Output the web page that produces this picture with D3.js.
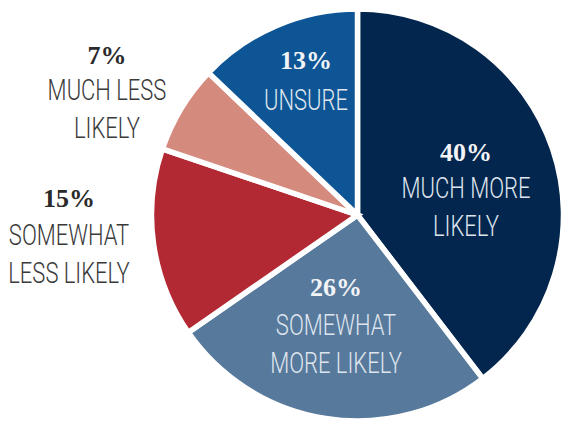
<!DOCTYPE html>
<html>
<head>
<meta charset="utf-8">
<script src="https://cdn.jsdelivr.net/npm/d3@7"></script>
<style>
  html, body { margin: 0; padding: 0; background: #fff; }
  svg { display: block; }
</style>
</head>
<body>
<svg id="chart" width="563" height="423"></svg>
<script>
const categories = ["MUCH MORE LIKELY", "SOMEWHAT MORE LIKELY", "SOMEWHAT LESS LIKELY", "MUCH LESS LIKELY", "UNSURE"];
const values = [40, 26, 15, 7, 13];
const pctLabels = ["40%", "26%", "15%", "7%", "13%"];
const labelLines = [["MUCH MORE", "LIKELY"], ["SOMEWHAT", "MORE LIKELY"], ["SOMEWHAT", "LESS LIKELY"], ["MUCH LESS", "LIKELY"], ["UNSURE"]];
const colors = ["#02264d", "#57799c", "#b22833", "#d48b7e", "#0d5595"];

const svg = d3.select("#chart");
const cx = 357.5, cy = 215, R = 206;

const pie = d3.pie().sort(null).value(d => d)(values);
const arc = d3.arc().innerRadius(0).outerRadius(R);

const g = svg.append("g").attr("transform", `translate(${cx},${cy})`);
g.selectAll("path").data(pie).join("path")
  .attr("d", arc)
  .attr("fill", (d, i) => colors[i])
  .attr("stroke", "#fff")
  .attr("stroke-width", 5.5)
  .attr("stroke-linejoin", "miter");

// label anchor positions (pct baseline, label x center)
const labelPos = [
  { x: 466, pctY: 161, lineY: 198 },
  { x: 336, pctY: 296, lineY: 335 },
  { x: 69, pctY: 207, lineY: 245 },
  { x: 107, pctY: 64, lineY: 100 },
  { x: 306, pctY: 69, lineY: 110 }
];
const inside = [true, true, false, false, true];
const lineGap = 38;

labelPos.forEach((p, i) => {
  const lg = svg.append("g");
  lg.append("text")
    .attr("x", p.x).attr("y", p.pctY)
    .attr("text-anchor", "middle")
    .attr("font-family", "'Liberation Serif', 'DejaVu Serif', serif")
    .attr("font-weight", "bold")
    .attr("font-size", 26)
    .attr("fill", inside[i] ? "#f2f4f7" : "#2a2a2a")
    .text(pctLabels[i]);
  labelLines[i].forEach((t, j) => {
    const y = p.lineY + j * lineGap;
    lg.append("text")
      .attr("transform", `translate(${p.x},${y}) scale(0.745,1)`)
      .attr("text-anchor", "middle")
      .attr("font-family", "Roboto, 'Open Sans', sans-serif")
      .attr("font-weight", 300)
      .attr("font-size", 29.5)
      .attr("fill", inside[i] ? "#dfe5ee" : "#3a3a3a")
      .text(t);
  });
});
</script>
</body>
</html>
